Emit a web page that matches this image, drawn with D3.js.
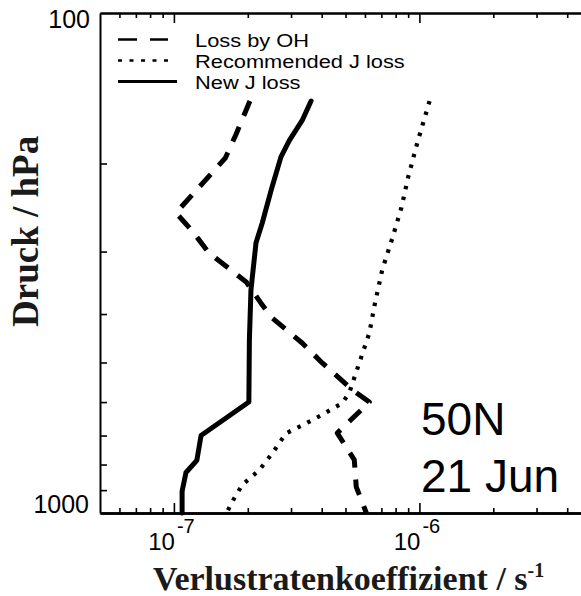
<!DOCTYPE html>
<html>
<head>
<meta charset="utf-8">
<script src="https://cdn.jsdelivr.net/npm/d3@7"></script>
<style>
  html, body { margin: 0; padding: 0; background: #fff; }
  svg { display: block; }
</style>
</head>
<body>
<svg id="chart" width="581" height="596"></svg>
<script>
// Loss by OH (pressure in hPa, loss-rate coefficient in 1/s)
const ohPressure = [150, 175, 195, 251, 268, 282, 302, 345, 380, 407, 457, 501, 567, 600, 692, 783, 887, 1000];
const ohLoss     = [2.04e-7, 1.79e-7, 1.62e-7, 1.02e-7, 1.15e-7, 1.25e-7, 1.39e-7, 1.97e-7, 2.26e-7, 2.51e-7, 3.33e-7, 4.02e-7, 5.33e-7, 6.25e-7, 4.63e-7, 5.43e-7, 5.53e-7, 6.08e-7];

// Recommended J loss
const recPressure = [150, 182, 213, 245, 282, 326, 378, 437, 501, 575, 603, 636, 668, 693, 761, 822, 878, 948, 1000];
const recLoss     = [1.10e-6, 9.8e-7, 9.0e-7, 8.45e-7, 7.76e-7, 7.06e-7, 6.61e-7, 6.25e-7, 5.69e-7, 5.18e-7, 4.85e-7, 4.02e-7, 3.33e-7, 2.86e-7, 2.51e-7, 2.22e-7, 1.90e-7, 1.73e-7, 1.64e-7];

// New J loss
const newPressure = [150, 164, 180, 194, 226, 263, 288, 358, 450, 600, 700, 785, 830, 905, 1000];
const newLoss     = [3.62e-7, 3.33e-7, 2.95e-7, 2.73e-7, 2.49e-7, 2.29e-7, 2.16e-7, 2.06e-7, 2.03e-7, 2.02e-7, 1.29e-7, 1.24e-7, 1.12e-7, 1.08e-7, 1.08e-7];

const seriesNames = ["Loss by OH", "Recommended J loss", "New J loss"];
const xMajorTicks = [1e-7, 1e-6];
const xMinorTicks = [6e-8, 7e-8, 8e-8, 9e-8, 2e-7, 3e-7, 4e-7, 5e-7, 6e-7, 7e-7, 8e-7, 9e-7, 2e-6, 3e-6, 4e-6];
const xTickExponents = ["-7", "-6"];
const yMinorTicks = [200, 300, 400, 500, 600, 700, 800, 900];
const yLabelTicks = [100, 1000];
const annotation = ["50N", "21 Jun"];

const svg = d3.select("#chart");
const sans = "'Liberation Sans', Arial, sans-serif";
const serif = "'Liberation Serif', 'Times New Roman', serif";

const x = d3.scaleLog().domain([5e-8, 5e-6]).range([100, 591]);
const y = d3.scaleLog().domain([100, 1000]).range([13, 513]);

const styles = [
  { dash: "16 12", width: 5, cap: "butt" },
  { dash: "3.5 7.5", width: 4.2, cap: "butt" },
  { dash: null, width: 5, cap: "round" }
];

// profiles
const line = d3.line().x(d => x(d[1])).y(d => y(d[0])).curve(d3.curveLinear);
const profiles = [
  d3.zip(ohPressure, ohLoss),
  d3.zip(recPressure, recLoss),
  d3.zip(newPressure, newLoss)
];
profiles.forEach((pts, i) => {
  svg.append("path")
    .attr("d", line(pts))
    .attr("fill", "none")
    .attr("stroke", "#000")
    .attr("stroke-width", styles[i].width)
    .attr("stroke-linecap", styles[i].cap)
    .attr("stroke-linejoin", "round")
    .attr("stroke-dasharray", styles[i].dash);
});

// axes: ticks point into the plot
function styleAxis(g, w) {
  g.selectAll("path.domain").attr("stroke", "#000").attr("stroke-width", w);
  g.selectAll(".tick line").attr("stroke", "#000").attr("stroke-width", 1.6);
  g.selectAll(".tick text").remove();
}
const bottomY = y(1000), topY = y(100), leftX = x(5e-8);

svg.append("g").attr("transform", `translate(0,${bottomY})`)
  .call(d3.axisTop(x).tickValues(xMinorTicks).tickSize(5).tickSizeOuter(0))
  .call(g => styleAxis(g, 2.6));
svg.append("g").attr("transform", `translate(0,${bottomY})`)
  .call(d3.axisTop(x).tickValues(xMajorTicks).tickSize(10).tickSizeOuter(0))
  .call(g => styleAxis(g, 2.6));
svg.append("g").attr("transform", `translate(0,${topY})`)
  .call(d3.axisBottom(x).tickValues(xMinorTicks).tickSize(5).tickSizeOuter(0))
  .call(g => styleAxis(g, 2));
svg.append("g").attr("transform", `translate(0,${topY})`)
  .call(d3.axisBottom(x).tickValues(xMajorTicks).tickSize(10).tickSizeOuter(0))
  .call(g => styleAxis(g, 2));
svg.append("g").attr("transform", `translate(${leftX},0)`)
  .call(d3.axisRight(y).tickValues(yMinorTicks).tickSize(7).tickSizeOuter(0))
  .call(g => styleAxis(g, 2));

// x tick labels: 10 with exponent
xMajorTicks.forEach((v, i) => {
  svg.append("text")
    .attr("x", x(v) + 1).attr("y", 550)
    .attr("text-anchor", "end")
    .attr("font-family", sans).attr("font-size", 24)
    .text("10");
  svg.append("text")
    .attr("x", x(v) + 3).attr("y", 533)
    .attr("font-family", sans).attr("font-size", 20)
    .text(xTickExponents[i]);
});

// y tick labels
svg.append("text")
  .attr("x", 90).attr("y", y(yLabelTicks[0]) + 15)
  .attr("text-anchor", "end")
  .attr("font-family", sans).attr("font-size", 25)
  .text(String(yLabelTicks[0]));
svg.append("text")
  .attr("x", 89).attr("y", y(yLabelTicks[1]))
  .attr("text-anchor", "end")
  .attr("font-family", sans).attr("font-size", 25)
  .text(String(yLabelTicks[1]));

// axis titles
const xTitle = svg.append("text")
  .attr("x", 153).attr("y", 590)
  .attr("font-family", serif).attr("font-weight", "bold").attr("font-size", 34)
  .attr("fill", "#1a1a1a");
xTitle.append("tspan").text("Verlustratenkoeffizient / s");
xTitle.append("tspan").attr("dy", -13).attr("font-size", 20).text("-1");

svg.append("text")
  .attr("transform", "translate(38,327) rotate(-90)")
  .attr("font-family", serif).attr("font-weight", "bold").attr("font-size", 37)
  .attr("fill", "#1a1a1a")
  .text("Druck / hPa");

// legend (rows are tight, text drawn slightly condensed in height)
const legendRows = [39.5, 60.5, 81.5];
const legendStyles = [
  { dash: "19 13", width: 2.6, len: 50 },
  { dash: "4 7.5", width: 2.6, len: 50 },
  { dash: null, width: 2.8, len: 59 }
];
seriesNames.forEach((name, i) => {
  const base = legendRows[i] + 7;
  svg.append("line")
    .attr("x1", 118).attr("x2", 118 + legendStyles[i].len)
    .attr("y1", legendRows[i]).attr("y2", legendRows[i])
    .attr("stroke", "#000")
    .attr("stroke-width", legendStyles[i].width)
    .attr("stroke-dasharray", legendStyles[i].dash);
  svg.append("text")
    .attr("x", 0).attr("y", 0)
    .attr("font-family", sans).attr("font-size", 18.5)
    .attr("transform", `translate(195,${base}) scale(1.18,1)`)
    .text(name);
});

// location / date annotation
annotation.forEach((t, i) => {
  svg.append("text")
    .attr("x", 421).attr("y", 435 + i * 57)
    .attr("font-family", sans).attr("font-size", 46)
    .text(t);
});
</script>
</body>
</html>
